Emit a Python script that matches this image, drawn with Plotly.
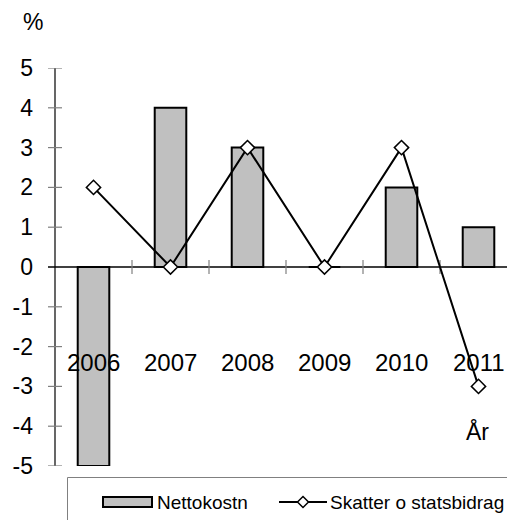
import plotly.graph_objects as go

years = ["2006", "2007", "2008", "2009", "2010", "2011"]
nettokostn = [-5, 4, 3, 0, 2, 1]
skatter = [2, 0, 3, 0, 3, -3]
y_ticks = [5, 4, 3, 2, 1, 0, -1, -2, -3, -4, -5]

OFF = 8  # page body margin
W, H = 515 - OFF, 520 - OFF
# plot area in screenshot pixels: x 55..515, y 68..466
ML, MT = 55 - OFF, 68 - OFF
PW, PH = 460, 398
MR = W - ML - PW
MB = H - MT - PH

def px(x):
    return (x - 55) / PW

def py(y):
    return (466 - y) / PH

FONT = "Liberation Sans, Arial, sans-serif"
xidx = list(range(len(years)))

fig = go.Figure()
fig.add_trace(go.Bar(
    x=xidx, y=nettokostn, width=0.41, name="Nettokostn",
    marker=dict(color="#C0C0C0", line=dict(color="black", width=2)),
    showlegend=False,
))
fig.add_trace(go.Scatter(
    x=xidx, y=skatter, mode="lines+markers", name="Skatter o statsbidrag",
    line=dict(color="black", width=2),
    marker=dict(symbol="diamond", size=11, color="white", line=dict(color="black", width=1.5)),
    showlegend=False, cliponaxis=False,
))

shapes = []
shapes.append(dict(type="line", xref="paper", yref="y", x0=px(48), x1=1, y0=0, y1=0,
                   line=dict(color="black", width=1.5), layer="below"))
shapes.append(dict(type="line", xref="paper", yref="paper", x0=0, x1=0, y0=0, y1=1,
                   line=dict(color="black", width=1.2), layer="below"))
for t in y_ticks:
    if t == 0:
        continue
    shapes.append(dict(type="line", xref="paper", yref="y", x0=px(48), x1=px(62), y0=t, y1=t,
                       line=dict(color="#808080", width=1.2), layer="below"))
for i in range(len(years) - 1):
    shapes.append(dict(type="line", xref="x", yref="paper", x0=i + 0.5, x1=i + 0.5,
                       y0=py(274), y1=py(260), line=dict(color="#808080", width=1.2), layer="below"))

shapes.append(dict(type="rect", xref="paper", yref="paper", x0=px(67.5), x1=px(530),
                   y0=py(540), y1=py(477.5), line=dict(color="#808080", width=1)))
shapes.append(dict(type="rect", xref="paper", yref="paper", x0=px(103), x1=px(152),
                   y0=py(507), y1=py(497), fillcolor="#C0C0C0", line=dict(color="black", width=2)))
shapes.append(dict(type="line", xref="paper", yref="paper", x0=px(279), x1=px(327),
                   y0=py(502), y1=py(502), line=dict(color="black", width=2)))
cx, cy, r = 303, 502, 5.5
shapes.append(dict(type="path", xref="paper", yref="paper",
                   path=f"M {px(cx)} {py(cy - r)} L {px(cx + r)} {py(cy)} L {px(cx)} {py(cy + r)} L {px(cx - r)} {py(cy)} Z",
                   fillcolor="white", line=dict(color="black", width=1.5)))

annotations = []
for i, yr in enumerate(years):
    annotations.append(dict(x=i, y=-2.4, xref="x", yref="y", text=yr, showarrow=False,
                            font=dict(family=FONT, size=24, color="black"),
                            xanchor="center", yanchor="middle"))
annotations.append(dict(x=px(33), y=py(22), xref="paper", yref="paper", text="%", showarrow=False,
                        font=dict(family=FONT, size=23, color="black"), xanchor="center", yanchor="middle"))
annotations.append(dict(x=px(477), y=py(431), xref="paper", yref="paper", text="År", showarrow=False,
                        font=dict(family=FONT, size=23, color="black"), xanchor="center", yanchor="middle"))
annotations.append(dict(x=px(155), y=py(502), xref="paper", yref="paper", text="Nettokostn", showarrow=False,
                        font=dict(family=FONT, size=19, color="black"), xanchor="left", yanchor="middle"))
annotations.append(dict(x=px(328), y=py(502), xref="paper", yref="paper", text="Skatter o statsbidrag",
                        showarrow=False, font=dict(family=FONT, size=19, color="black"),
                        xanchor="left", yanchor="middle"))

fig.update_layout(
    width=W, height=H,
    margin=dict(l=ML, r=MR, t=MT, b=MB, pad=0),
    paper_bgcolor="white", plot_bgcolor="white",
    showlegend=False,
    shapes=shapes, annotations=annotations,
    xaxis=dict(range=[-0.5, -0.5 + PW / 77.0], showticklabels=False, showgrid=False,
               zeroline=False, showline=False, ticks=""),
    yaxis=dict(range=[-5, 5], tickvals=y_ticks, ticktext=[str(t) for t in y_ticks],
               showgrid=False, zeroline=False, showline=False, ticks="",
               ticklabelstandoff=21,
               tickfont=dict(family=FONT, size=23, color="black")),
)

fig.write_html("out.html")
